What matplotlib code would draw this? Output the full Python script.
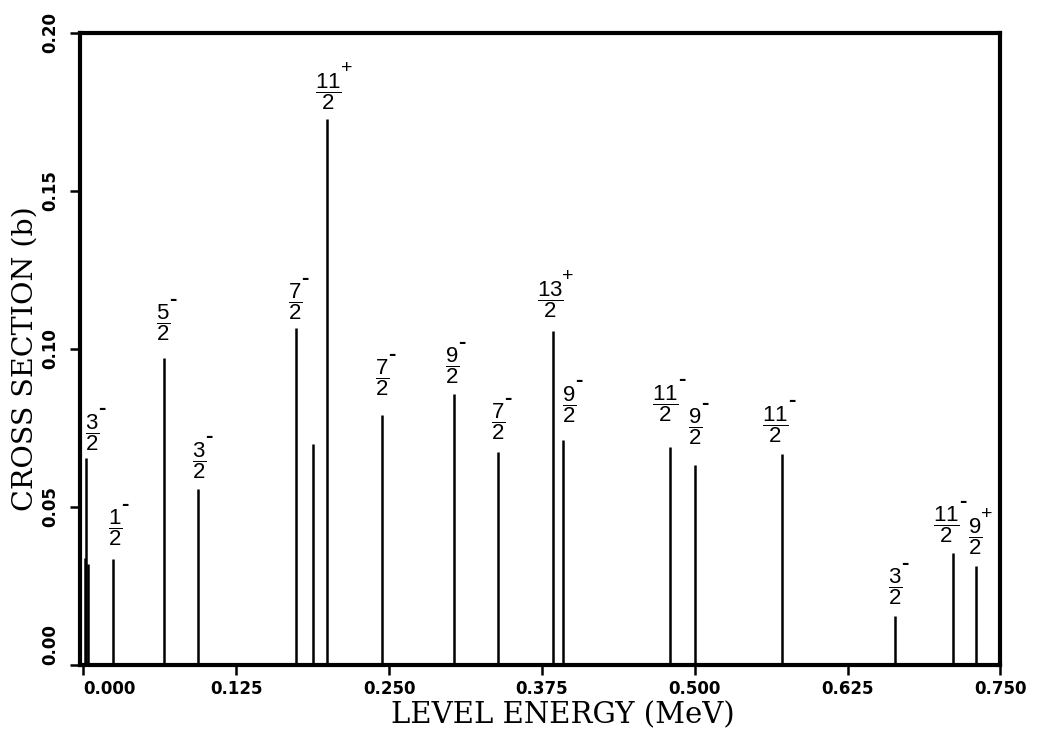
import matplotlib
matplotlib.use("Agg")
import matplotlib.pyplot as plt

# level energies (MeV), cross sections (b) and spin-parity of each level
energies = [0.001, 0.002, 0.004, 0.024, 0.066, 0.094, 0.174, 0.188, 0.199,
            0.244, 0.303, 0.339, 0.384, 0.392, 0.480, 0.500, 0.571,
            0.664, 0.711, 0.730]
sigmas = [0.034, 0.0656, 0.032, 0.0335, 0.097, 0.0557, 0.1065, 0.0698, 0.1728,
          0.079, 0.0857, 0.0673, 0.1057, 0.0712, 0.069, 0.0632, 0.0668,
          0.0154, 0.0353, 0.0313]
spins = [None, "3/2-", None, "1/2-", "5/2-", "3/2-", "7/2-", None, "11/2+",
         "7/2-", "9/2-", "7/2-", "13/2+", "9/2-", "11/2-", "9/2-", "11/2-",
         "3/2-", "11/2-", "9/2+"]

x_ticks = [0.0, 0.125, 0.25, 0.375, 0.5, 0.625, 0.75]
y_ticks = [0.0, 0.05, 0.10, 0.15, 0.20]

# label nudges in pixels (dx, gap above stick)
label_dx = [0, 6, 0, 2, -1, 1, -1, 0, 2, 0, -2, 0, -3, 6, -5, 0, -6, 0, -6, -1]
label_gap = [0, 5, 0, 11, 15, 8, 6, 0, 7, 17, 8, 10, 11, 15, 23, 18, 9, 9, 8, 9]

plt.rcParams["mathtext.fontset"] = "custom"
plt.rcParams["mathtext.rm"] = "Liberation Sans"
plt.rcParams["mathtext.it"] = "Liberation Sans"
plt.rcParams["mathtext.bf"] = "Liberation Sans:bold"

fig = plt.figure(figsize=(10.4, 7.32), dpi=100)
ax = fig.add_axes([0.077, 0.0915, 0.885, 0.864])

ax.vlines(energies, 0, sigmas, color="black", lw=1.8)

for e, sg, sp, dx, gap in zip(energies, sigmas, spins, label_dx, label_gap):
    if sp is None:
        continue
    num, den = sp[:-1].split("/")
    frac = ax.annotate(r"$\dfrac{%s}{%s}$" % (num, den), (e, sg),
                       xytext=(dx, gap), textcoords="offset pixels",
                       ha="center", va="bottom", fontsize=16)
    # parity sign sits at the upper right of the fraction
    if sp[-1] == "+":
        ax.annotate("+", (1, 1), xycoords=frac, xytext=(-1, 2),
                    textcoords="offset pixels", ha="left", va="center",
                    fontsize=14, family="Liberation Sans")
    else:
        ax.annotate("-", (1, 1), xycoords=frac, xytext=(-1, 3),
                    textcoords="offset pixels", ha="left", va="center",
                    fontsize=16, family="Liberation Sans", fontweight="bold")

ax.set_xlim(-0.0027, 0.75)
ax.set_ylim(0, 0.20)
ax.set_xticks(x_ticks)
ax.set_xticklabels(["%.3f" % v for v in x_ticks], fontsize=12,
                   fontweight="bold")
ax.get_xticklabels()[0].set_ha("left")
ax.set_yticks(y_ticks)
ax.set_yticklabels(["%.2f" % v for v in y_ticks], fontsize=12,
                   fontweight="bold", rotation=90, va="center")
ax.get_yticklabels()[0].set_va("bottom")

for side in ax.spines.values():
    side.set_linewidth(3)
ax.tick_params(direction="out", length=7, width=1.8)
ax.tick_params(axis="x", pad=4)
ax.tick_params(axis="y", pad=8)

ax.set_xlabel("LEVEL ENERGY (MeV)", family="DejaVu Serif", fontsize=21,
              va="top")
ax.xaxis.set_label_coords(0.524, -0.058)
ax.set_ylabel("CROSS SECTION (b)", family="DejaVu Serif", fontsize=20.5)
ax.yaxis.set_label_coords(-0.045, 0.485)

fig.savefig("out.png", dpi=100, facecolor="white")
